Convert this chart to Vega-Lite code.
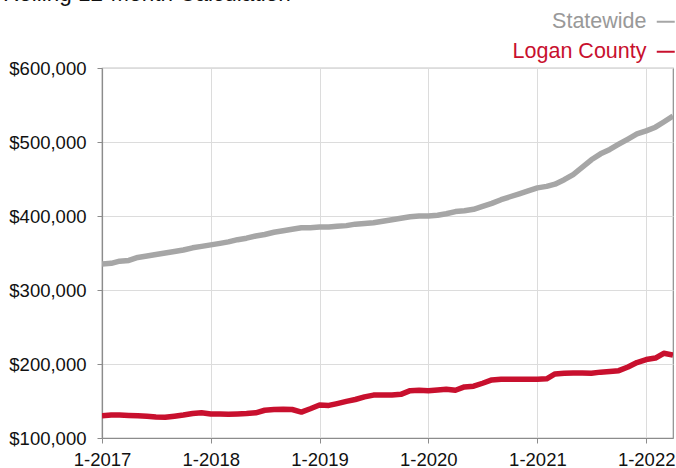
{
  "$schema": "https://vega.github.io/schema/vega-lite/v6.json",
  "width": 571,
  "height": 370,
  "autosize": {"type": "none"},
  "padding": {"left": 102, "top": 68, "right": 3, "bottom": 30},
  "background": "white",
  "title": {
    "text": "Rolling 12-Month Calculation",
    "anchor": "start",
    "frame": "group",
    "dx": -99,
    "offset": -12,
    "baseline": "alphabetic",
    "fontSize": 22.5,
    "font": "Liberation Sans",
    "fontWeight": "normal",
    "color": "#111111"
  },
  "config": {
    "font": "Liberation Sans",
    "view": {"stroke": "#8c8c8c", "strokeWidth": 1.2}
  },
  "data": {
    "values": [
      {"date": "2017-01-01", "Statewide": 335000, "Logan County": 130000},
      {"date": "2017-02-01", "Statewide": 336000, "Logan County": 131000},
      {"date": "2017-03-01", "Statewide": 339000, "Logan County": 131000},
      {"date": "2017-04-01", "Statewide": 340000, "Logan County": 130500},
      {"date": "2017-05-01", "Statewide": 344000, "Logan County": 130000},
      {"date": "2017-06-01", "Statewide": 346000, "Logan County": 129500},
      {"date": "2017-07-01", "Statewide": 348000, "Logan County": 128500},
      {"date": "2017-08-01", "Statewide": 350000, "Logan County": 128000},
      {"date": "2017-09-01", "Statewide": 352000, "Logan County": 129500},
      {"date": "2017-10-01", "Statewide": 354000, "Logan County": 131000},
      {"date": "2017-11-01", "Statewide": 357000, "Logan County": 133000},
      {"date": "2017-12-01", "Statewide": 359000, "Logan County": 134000},
      {"date": "2018-01-01", "Statewide": 361000, "Logan County": 132500},
      {"date": "2018-02-01", "Statewide": 363000, "Logan County": 132500},
      {"date": "2018-03-01", "Statewide": 365000, "Logan County": 132000},
      {"date": "2018-04-01", "Statewide": 368000, "Logan County": 132500},
      {"date": "2018-05-01", "Statewide": 370000, "Logan County": 133000},
      {"date": "2018-06-01", "Statewide": 373000, "Logan County": 134000},
      {"date": "2018-07-01", "Statewide": 375000, "Logan County": 137500},
      {"date": "2018-08-01", "Statewide": 378000, "Logan County": 138500},
      {"date": "2018-09-01", "Statewide": 380000, "Logan County": 139000},
      {"date": "2018-10-01", "Statewide": 382000, "Logan County": 138500},
      {"date": "2018-11-01", "Statewide": 384000, "Logan County": 135000},
      {"date": "2018-12-01", "Statewide": 384000, "Logan County": 139500},
      {"date": "2019-01-01", "Statewide": 385000, "Logan County": 144500},
      {"date": "2019-02-01", "Statewide": 385000, "Logan County": 144000},
      {"date": "2019-03-01", "Statewide": 386000, "Logan County": 146500},
      {"date": "2019-04-01", "Statewide": 387000, "Logan County": 149500},
      {"date": "2019-05-01", "Statewide": 389000, "Logan County": 152000},
      {"date": "2019-06-01", "Statewide": 390000, "Logan County": 155500},
      {"date": "2019-07-01", "Statewide": 391000, "Logan County": 158000},
      {"date": "2019-08-01", "Statewide": 393000, "Logan County": 158000},
      {"date": "2019-09-01", "Statewide": 395000, "Logan County": 158000},
      {"date": "2019-10-01", "Statewide": 397000, "Logan County": 159000},
      {"date": "2019-11-01", "Statewide": 399000, "Logan County": 164000},
      {"date": "2019-12-01", "Statewide": 400000, "Logan County": 164500},
      {"date": "2020-01-01", "Statewide": 400000, "Logan County": 164000},
      {"date": "2020-02-01", "Statewide": 401000, "Logan County": 165000},
      {"date": "2020-03-01", "Statewide": 403000, "Logan County": 166000},
      {"date": "2020-04-01", "Statewide": 406000, "Logan County": 164500},
      {"date": "2020-05-01", "Statewide": 407000, "Logan County": 169000},
      {"date": "2020-06-01", "Statewide": 409000, "Logan County": 170000},
      {"date": "2020-07-01", "Statewide": 413000, "Logan County": 174000},
      {"date": "2020-08-01", "Statewide": 417000, "Logan County": 178500},
      {"date": "2020-09-01", "Statewide": 422000, "Logan County": 179500},
      {"date": "2020-10-01", "Statewide": 426000, "Logan County": 179500},
      {"date": "2020-11-01", "Statewide": 430000, "Logan County": 179500},
      {"date": "2020-12-01", "Statewide": 434000, "Logan County": 179500},
      {"date": "2021-01-01", "Statewide": 438000, "Logan County": 179500},
      {"date": "2021-02-01", "Statewide": 440000, "Logan County": 180000},
      {"date": "2021-03-01", "Statewide": 443000, "Logan County": 186500},
      {"date": "2021-04-01", "Statewide": 449000, "Logan County": 187500},
      {"date": "2021-05-01", "Statewide": 456000, "Logan County": 188000},
      {"date": "2021-06-01", "Statewide": 466000, "Logan County": 188000},
      {"date": "2021-07-01", "Statewide": 476000, "Logan County": 187500},
      {"date": "2021-08-01", "Statewide": 484000, "Logan County": 189000},
      {"date": "2021-09-01", "Statewide": 490000, "Logan County": 190000},
      {"date": "2021-10-01", "Statewide": 497000, "Logan County": 191000},
      {"date": "2021-11-01", "Statewide": 504000, "Logan County": 196000},
      {"date": "2021-12-01", "Statewide": 511000, "Logan County": 202000},
      {"date": "2022-01-01", "Statewide": 515000, "Logan County": 206000},
      {"date": "2022-02-01", "Statewide": 520000, "Logan County": 208000},
      {"date": "2022-03-01", "Statewide": 527000, "Logan County": 214500},
      {"date": "2022-04-01", "Statewide": 535000, "Logan County": 212000}
    ]
  },
  "transform": [
    {"fold": ["Statewide", "Logan County"], "as": ["series", "value"]}
  ],
  "mark": {"type": "line", "strokeWidth": 5.5, "strokeJoin": "round", "strokeCap": "butt", "clip": true},
  "encoding": {
    "x": {
      "field": "date",
      "type": "temporal",
      "scale": {
        "type": "utc",
        "domain": [
          {"year": 2017, "month": 1, "date": 1, "utc": true},
          {"year": 2022, "month": 4, "date": 1, "utc": true}
        ]
      },
      "axis": {
        "title": null,
        "values": [
          {"year": 2017, "month": 1, "date": 1, "utc": true},
          {"year": 2018, "month": 1, "date": 1, "utc": true},
          {"year": 2019, "month": 1, "date": 1, "utc": true},
          {"year": 2020, "month": 1, "date": 1, "utc": true},
          {"year": 2021, "month": 1, "date": 1, "utc": true},
          {"year": 2022, "month": 1, "date": 1, "utc": true}
        ],
        "labelExpr": "utcFormat(datum.value, '%-m-%Y')",
        "labelFontSize": 18.5,
        "labelColor": "#111111",
        "labelPadding": 7,
        "labelFlush": false,
        "labelOverlap": false,
        "tickSize": 5,
        "tickColor": "#8c8c8c",
        "domainColor": "#8c8c8c",
        "domainWidth": 1.2,
        "gridColor": "#dcdcdc",
        "gridWidth": 1
      }
    },
    "y": {
      "field": "value",
      "type": "quantitative",
      "scale": {"domain": [100000, 600000], "nice": false, "zero": false},
      "axis": {
        "title": null,
        "values": [100000, 200000, 300000, 400000, 500000, 600000],
        "format": "$,.0f",
        "labelFontSize": 18.5,
        "labelColor": "#111111",
        "labelPadding": 11,
        "tickSize": 5,
        "tickColor": "#8c8c8c",
        "domainColor": "#8c8c8c",
        "domainWidth": 1.2,
        "gridColor": "#dcdcdc",
        "gridWidth": 1
      }
    },
    "color": {
      "field": "series",
      "type": "nominal",
      "scale": {"domain": ["Statewide", "Logan County"], "range": ["#a6a6a6", "#c8102e"]},
      "legend": {
        "title": null,
        "orient": "none",
        "legendX": 553,
        "legendY": -57,
        "direction": "vertical",
        "symbolType": "stroke",
        "symbolSize": 324,
        "symbolStrokeWidth": 2,
        "labelFontSize": 21.5,
        "labelAlign": "right",
        "labelOffset": -30,
        "labelLimit": 300,
        "rowPadding": 7,
        "labelColor": {"expr": "datum.value === 'Statewide' ? '#999999' : '#c8102e'"}
      }
    }
  }
}
